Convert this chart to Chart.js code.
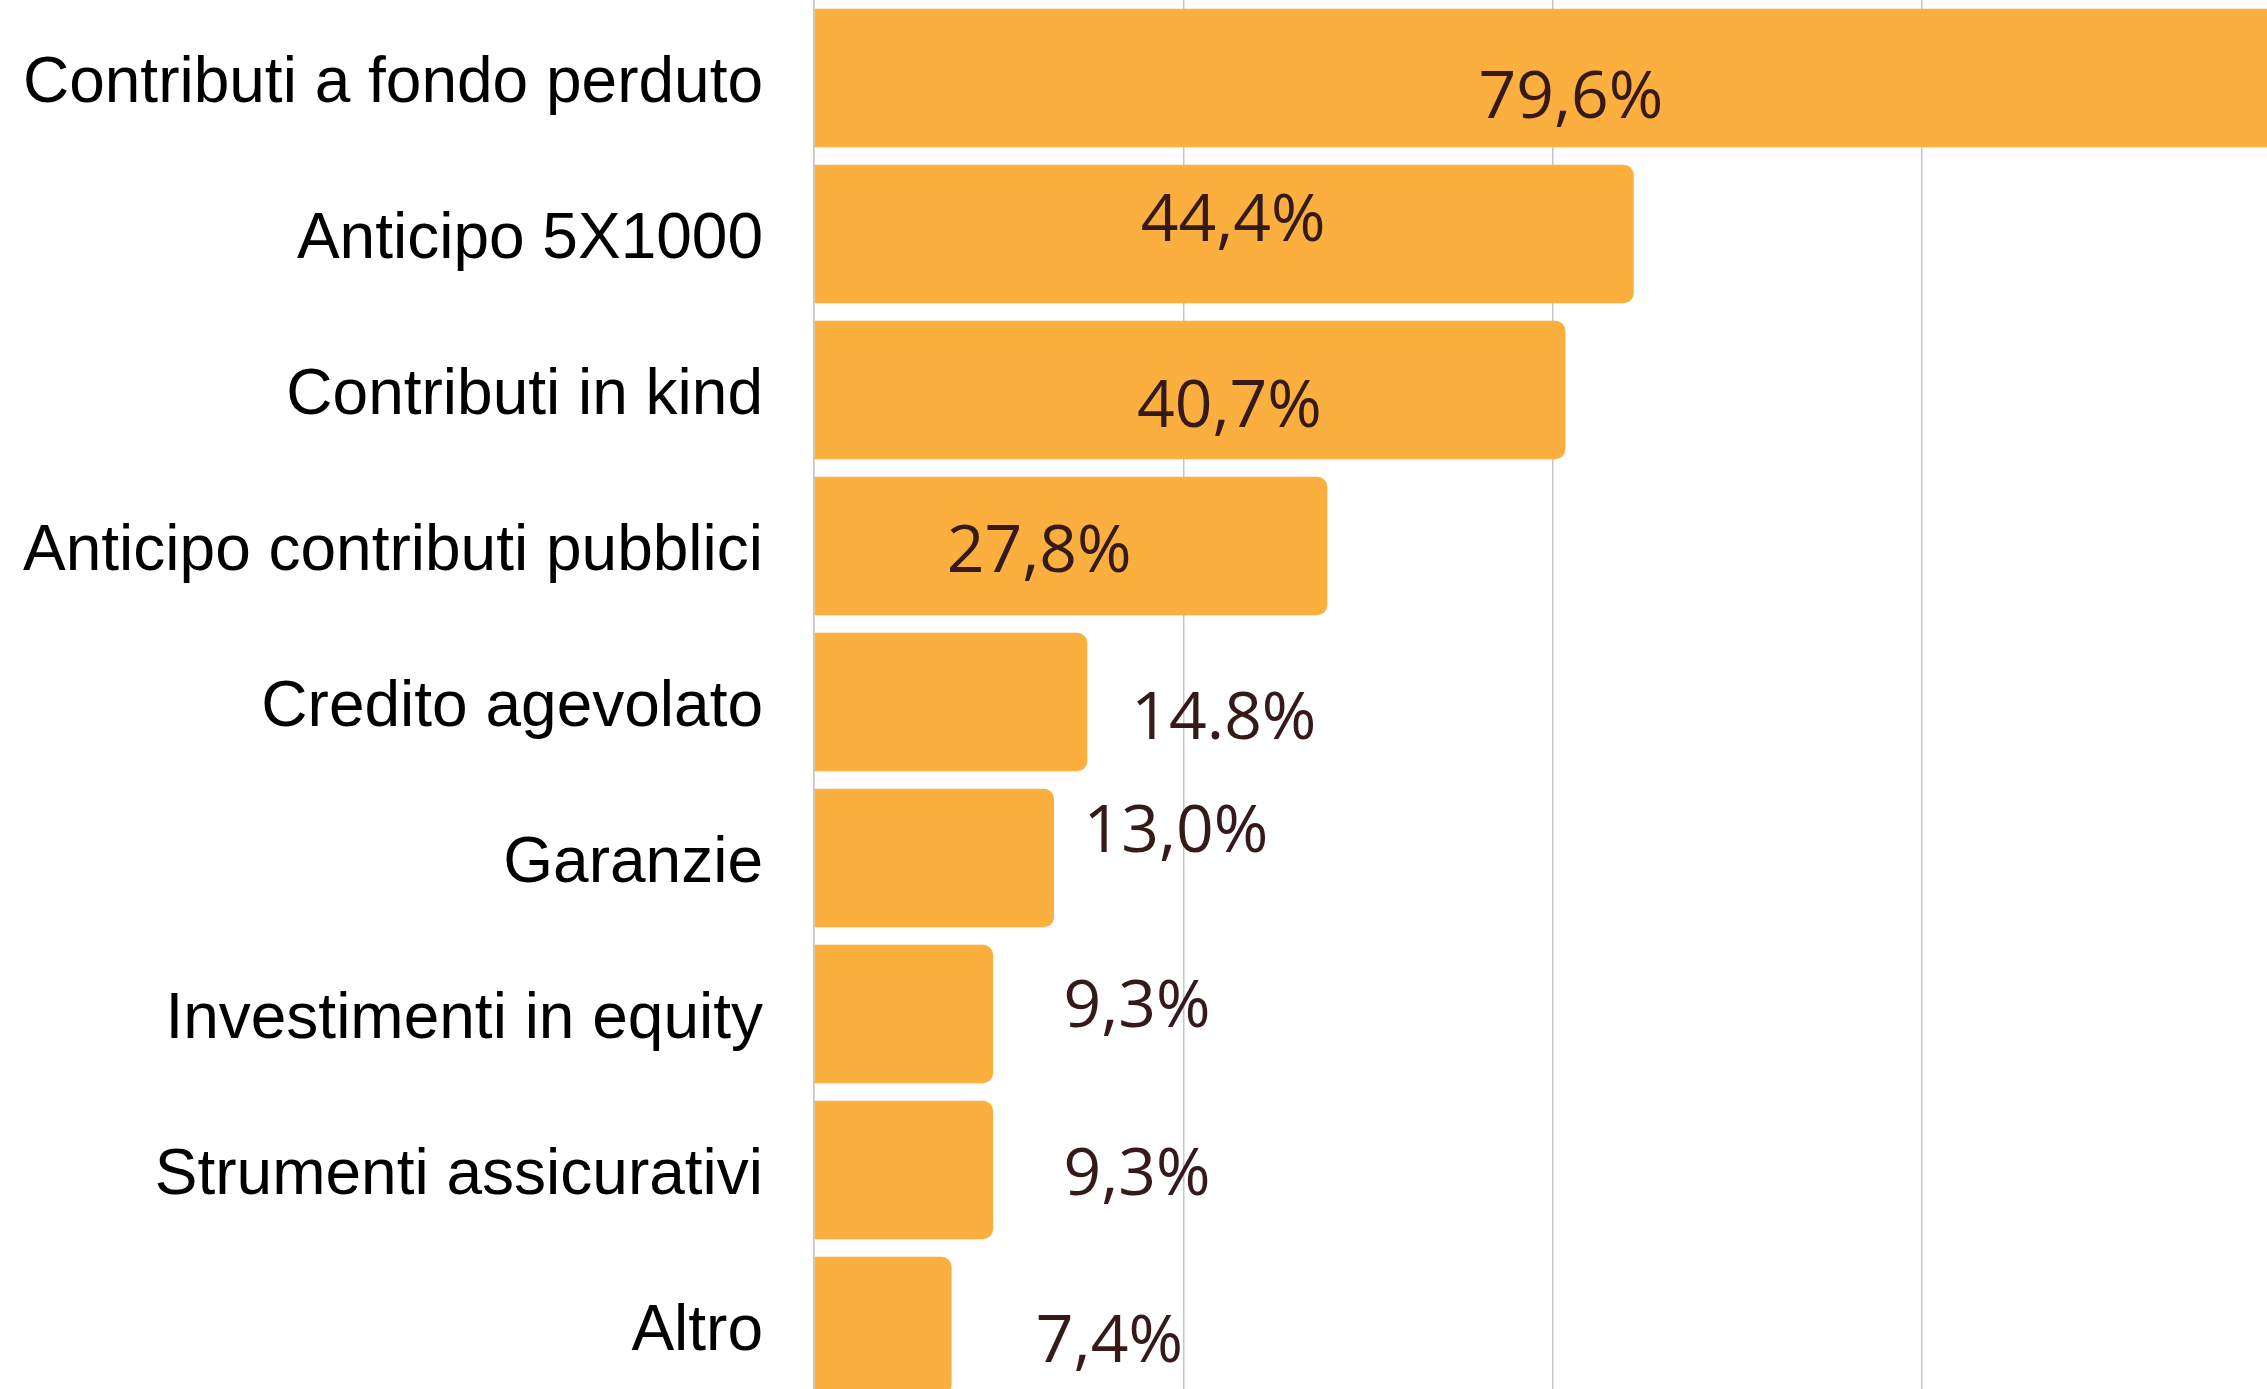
<!DOCTYPE html>
<html><head><meta charset="utf-8"><title>Strumenti finanziari</title>
<script src="https://cdn.jsdelivr.net/npm/chart.js@4.4.0/dist/chart.umd.min.js"></script>
<style>
html,body{margin:0;background:#fff;}
#wrap{position:relative;width:2267px;height:1389px;overflow:hidden;}
#box{position:absolute;left:0;top:0;width:2267px;height:1404px;}
</style></head><body>
<div id="wrap"><div id="box"><canvas id="c"></canvas></div></div>
<script>
const categories=["Contributi a fondo perduto","Anticipo 5X1000","Contributi in kind","Anticipo contributi pubblici","Credito agevolato","Garanzie","Investimenti in equity","Strumenti assicurativi","Altro"];
// bar lengths as drawn in the picture (the two "9,3%" bars are drawn a bit longer than their label)
const values=[79.6,44.4,40.7,27.8,14.8,13.0,9.7,9.7,7.45];
const valueLabels=["79,6%","44,4%","40,7%","27,8%","14.8%","13,0%","9,3%","9,3%","7,4%"];
const gridTicks=[0,20,40,60];
// value labels were hand placed in the original: spot on the axis (in %) + small vertical nudge (px)
const labelAt=[41.0,22.7,22.5,12.2,22.2,19.6,17.5,17.5,16.0];
const labelNudge=[16,-17,13,2,13,-30,-11,1,12];

const LABEL_SIZE=66;
const valueLabelPlugin={id:"valueLabels",afterDatasetsDraw(chart){
  const ctx=chart.ctx, x=chart.scales.x, meta=chart.getDatasetMeta(0);
  ctx.save();
  ctx.font=LABEL_SIZE+"px 'Open Sans'"; ctx.fillStyle="#361a1a";
  ctx.textAlign="center"; ctx.textBaseline="alphabetic";
  meta.data.forEach((bar,i)=>{
    ctx.fillText(valueLabels[i], x.getPixelForValue(labelAt[i]), bar.y+labelNudge[i]+0.36*LABEL_SIZE);
  });
  ctx.restore();
}};

new Chart(document.getElementById("c"),{
  type:"bar",
  data:{labels:categories,datasets:[{data:values,backgroundColor:"#faaf3e",borderRadius:10,borderSkipped:"start",categoryPercentage:1,barPercentage:0.887}]},
  options:{
    indexAxis:"y",responsive:true,maintainAspectRatio:false,animation:false,
    layout:{padding:0},
    plugins:{legend:{display:false},tooltip:{enabled:false}},
    scales:{
      x:{min:0,max:78.7,
        afterBuildTicks:s=>{s.ticks=gridTicks.map(v=>({value:v}));},
        ticks:{display:false},
        grid:{color:"#c6c6c6",lineWidth:1.5,drawTicks:false},
        border:{display:false}},
      y:{z:1,
        // fixed axis width, and no extra room above/below for the labels
        afterFit:s=>{s.width=814; s.paddingTop=0; s.paddingBottom=0;},
        ticks:{color:"#000",padding:51,labelOffset:6,font:{family:"'Liberation Sans', Arial, sans-serif",size:64}},
        grid:{display:false,drawTicks:false},
        border:{display:true,color:"#c6c6c6",width:1.5}}
    }
  },
  plugins:[valueLabelPlugin]
});
</script>
</body></html>
